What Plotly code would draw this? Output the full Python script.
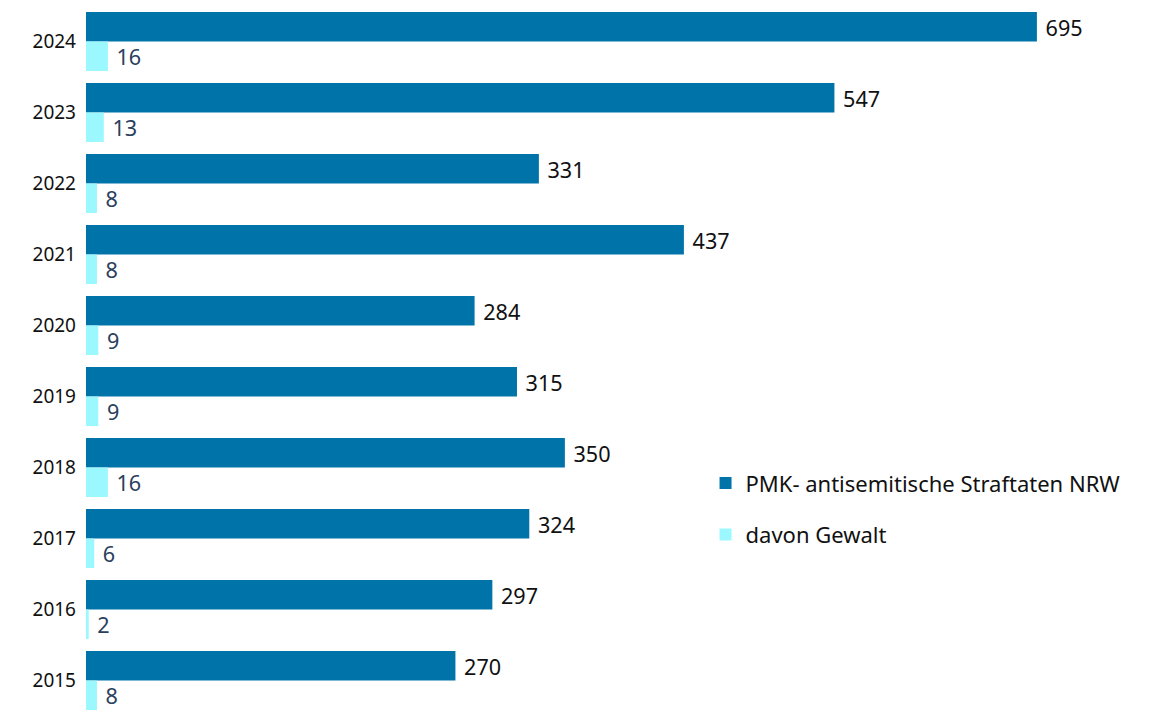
import plotly.graph_objects as go

years = ["2024", "2023", "2022", "2021", "2020", "2019", "2018", "2017", "2016", "2015"]
total = [695, 547, 331, 437, 284, 315, 350, 324, 297, 270]
violence = [16, 13, 8, 8, 9, 9, 16, 6, 2, 8]

series_names = ["PMK- antisemitische Straftaten NRW", "davon Gewalt"]
dark = "#0074A8"
light = "#9BF8FF"
font = "Noto Sans"

fig = go.Figure()
fig.add_trace(go.Bar(
    y=years, x=total, orientation="h", name=series_names[0], legendgroup="a",
    marker=dict(color=dark, line=dict(width=0)),
    text=total, texttemplate=" %{text}", textposition="outside", cliponaxis=False,
    textfont=dict(family=font, size=22, color="#111111"),
))
fig.add_trace(go.Bar(
    y=years, x=violence, orientation="h", name=series_names[1], legendgroup="b",
    marker=dict(color=light, line=dict(width=0)),
    text=violence, texttemplate=" %{text}", textposition="outside", cliponaxis=False,
    textfont=dict(family=font, size=22, color="#2B3F5E"),
))

fig.update_layout(
    width=1171, height=710,
    margin=dict(l=86, r=0, t=6, b=0),
    paper_bgcolor="white", plot_bgcolor="white",
    barmode="group", bargap=0.17, bargroupgap=0.0,
    font=dict(family=font, color="#111111"),
    showlegend=True,
    legend=dict(
        x=0.571, y=0.352, xanchor="left", yanchor="top",
        font=dict(family=font, size=22, color="#111111"),
        tracegroupgap=20, itemwidth=30,
        bgcolor="rgba(0,0,0,0)",
    ),
    xaxis=dict(range=[0, 793], showgrid=False, zeroline=False, showticklabels=False,
               showline=False, ticks="", automargin=False),
    yaxis=dict(range=[9.415, -0.5], showgrid=False, zeroline=False, showline=False,
               ticks="", ticklabelstandoff=9, automargin=False,
               tickfont=dict(family=font, size=19, color="#111111")),
)

fig.write_html("out.html", config={"displayModeBar": False},
               post_script="document.body.style.margin='0';")
